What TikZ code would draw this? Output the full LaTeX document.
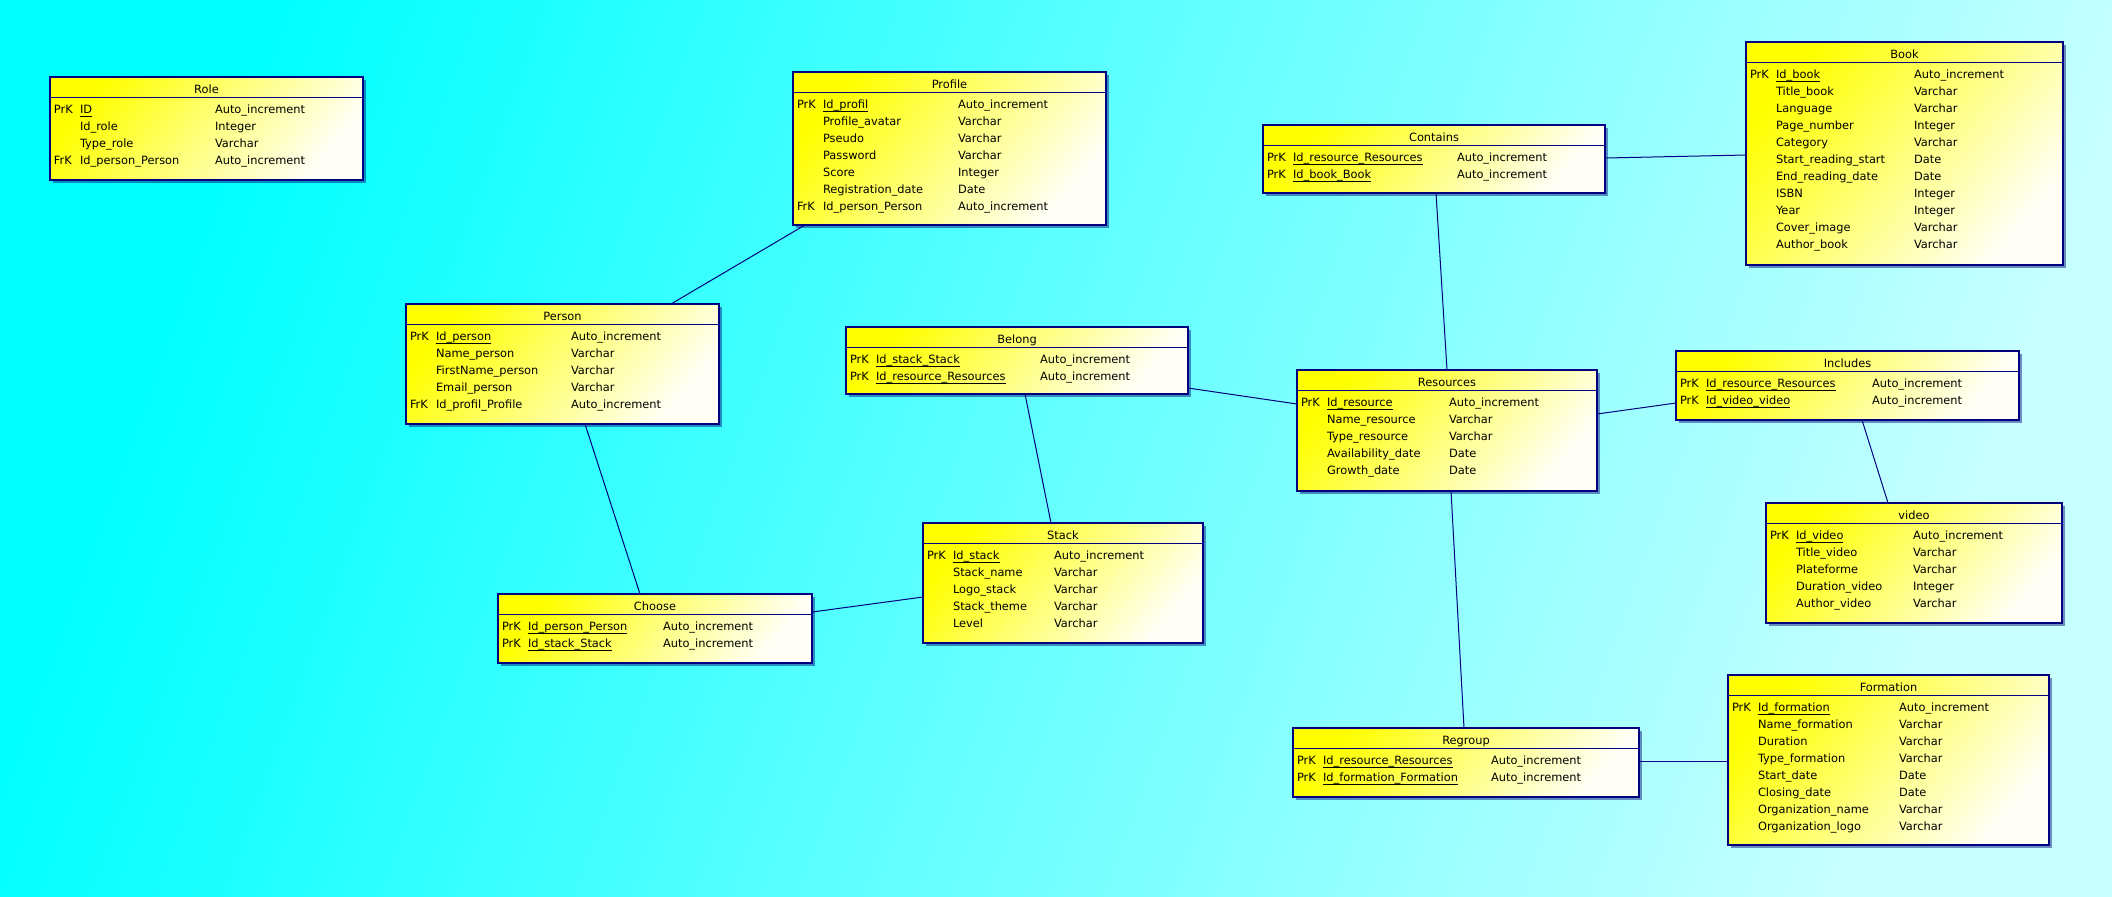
\documentclass[tikz,border=0pt]{standalone}
\usepackage{fontspec}
\setmainfont{DejaVu Sans}
\usetikzlibrary{calc,shadows}
\definecolor{bgA}{RGB}{0,255,255}
\definecolor{bgB}{RGB}{200,255,255}
\definecolor{navyline}{RGB}{0,0,128}
\definecolor{boxA}{RGB}{255,255,0}
\definecolor{boxB}{RGB}{255,255,248}
\newcommand\erfont{\fontsize{5.7}{6.8}\selectfont}
% key field: underlined at underscore level
\newsavebox\ulbox
\newcommand\keyfield[1]{\sbox\ulbox{#1}\rlap{\rule[-0.26em]{\wd\ulbox}{0.07em}}\usebox\ulbox}
\tikzset{
  tbl/.style={rectangle, draw=navyline, line width=0.6pt, inner sep=0pt, outer sep=0pt,
    top color=boxA, bottom color=boxB, shading angle=50,
    drop shadow={shadow xshift=1.6pt, shadow yshift=-1.6pt, fill=black!55!blue, opacity=0.45}},
  ttl/.style={inner sep=0pt, outer sep=0pt, text height=1.6ex, text depth=0.4ex, font=\erfont},
  cell/.style={anchor=west, inner sep=0pt, outer sep=0pt, text height=1.6ex, text depth=0.4ex, font=\erfont},
  hdr/.style={draw=navyline, line width=0.5pt},
  link/.style={draw=navyline, line width=0.5pt}
}
% #1 name, #2 x, #3 y, #4 width, #5 height, #6 title, #7 type column, #8 rows key/field/type
\newcommand\ertable[8]{%
  \node[tbl, minimum width=#4*0.5pt, minimum height=#5*0.5pt, anchor=north west] (#1) at (#2,#3) {};
  \draw[hdr] ($(#1.north west)+(0,20)$) -- ($(#1.north east)+(0,20)$);
  \node[ttl] (#1-title) at ($(#1.north)+(0,10)$) {#6};
  \foreach \k/\n/\t [count=\i] in {#8} {
    \node[cell] (#1-key-\i) at ($(#1.north west)+(4,{30+17*(\i-1)})$) {\k};
    \node[cell] (#1-name-\i) at ($(#1.north west)+(30,{30+17*(\i-1)})$) {\n};
    \node[cell] (#1-type-\i) at ($(#1.north west)+(#7,{30+17*(\i-1)})$) {\t};
  }%
}
\begin{document}
\begin{tikzpicture}[x=0.5pt, y=-0.5pt]
  % backdrop
  \shade[top color=bgA, bottom color=bgB, shading angle=70] (0,0) rectangle (2112,896);
  \useasboundingbox (0,0) rectangle (2112,896);

  \ertable{role}{50}{77}{313}{103}{Role}{165}{
    PrK/\keyfield{ID}/Auto\_increment,
    /Id\_role/Integer,
    /Type\_role/Varchar,
    FrK/Id\_person\_Person/Auto\_increment}

  \ertable{profile}{793}{72}{313}{153}{Profile}{165}{
    PrK/\keyfield{Id\_profil}/Auto\_increment,
    /Profile\_avatar/Varchar,
    /Pseudo/Varchar,
    /Password/Varchar,
    /Score/Integer,
    /Registration\_date/Date,
    FrK/Id\_person\_Person/Auto\_increment}

  \ertable{person}{406}{304}{313}{120}{Person}{165}{
    PrK/\keyfield{Id\_person}/Auto\_increment,
    /Name\_person/Varchar,
    /FirstName\_person/Varchar,
    /Email\_person/Varchar,
    FrK/Id\_profil\_Profile/Auto\_increment}

  \ertable{belong}{846}{327}{342}{67}{Belong}{194}{
    PrK/\keyfield{Id\_stack\_Stack}/Auto\_increment,
    PrK/\keyfield{Id\_resource\_Resources}/Auto\_increment}

  \ertable{contains}{1263}{125}{342}{68}{Contains}{194}{
    PrK/\keyfield{Id\_resource\_Resources}/Auto\_increment,
    PrK/\keyfield{Id\_book\_Book}/Auto\_increment}

  \ertable{book}{1746}{42}{317}{223}{Book}{168}{
    PrK/\keyfield{Id\_book}/Auto\_increment,
    /Title\_book/Varchar,
    /Language/Varchar,
    /Page\_number/Integer,
    /Category/Varchar,
    /Start\_reading\_start/Date,
    /End\_reading\_date/Date,
    /ISBN/Integer,
    /Year/Integer,
    /Cover\_image/Varchar,
    /Author\_book/Varchar}

  \ertable{resources}{1297}{370}{300}{121}{Resources}{152}{
    PrK/\keyfield{Id\_resource}/Auto\_increment,
    /Name\_resource/Varchar,
    /Type\_resource/Varchar,
    /Availability\_date/Date,
    /Growth\_date/Date}

  \ertable{includes}{1676}{351}{343}{69}{Includes}{196}{
    PrK/\keyfield{Id\_resource\_Resources}/Auto\_increment,
    PrK/\keyfield{Id\_video\_video}/Auto\_increment}

  \ertable{video}{1766}{503}{296}{120}{video}{147}{
    PrK/\keyfield{Id\_video}/Auto\_increment,
    /Title\_video/Varchar,
    /Plateforme/Varchar,
    /Duration\_video/Integer,
    /Author\_video/Varchar}

  \ertable{choose}{498}{594}{314}{69}{Choose}{165}{
    PrK/\keyfield{Id\_person\_Person}/Auto\_increment,
    PrK/\keyfield{Id\_stack\_Stack}/Auto\_increment}

  \ertable{stack}{923}{523}{280}{120}{Stack}{131}{
    PrK/\keyfield{Id\_stack}/Auto\_increment,
    /Stack\_name/Varchar,
    /Logo\_stack/Varchar,
    /Stack\_theme/Varchar,
    /Level/Varchar}

  \ertable{regroup}{1293}{728}{346}{69}{Regroup}{198}{
    PrK/\keyfield{Id\_resource\_Resources}/Auto\_increment,
    PrK/\keyfield{Id\_formation\_Formation}/Auto\_increment}

  \ertable{formation}{1728}{675}{321}{170}{Formation}{171}{
    PrK/\keyfield{Id\_formation}/Auto\_increment,
    /Name\_formation/Varchar,
    /Duration/Varchar,
    /Type\_formation/Varchar,
    /Start\_date/Date,
    /Closing\_date/Date,
    /Organization\_name/Varchar,
    /Organization\_logo/Varchar}

  % relationships
  \draw[link] ($(profile.south west)+(12,0)$) -- ($(person.north west)+(265,0)$);
  \draw[link] ($(person.south west)+(179,0)$) -- ($(choose.north west)+(142,0)$);
  \draw[link] ($(choose.north east)+(0,18)$) -- ($(stack.north west)+(0,74)$);
  \draw[link] ($(belong.south west)+(179,0)$) -- ($(stack.north west)+(128,0)$);
  \draw[link] ($(belong.north east)+(0,61)$) -- ($(resources.north west)+(0,34)$);
  \draw[link] ($(contains.south west)+(173,0)$) -- ($(resources.north west)+(150,0)$);
  \draw[link] ($(contains.north east)+(0,33)$) -- ($(book.north west)+(0,113)$);
  \draw[link] ($(resources.north east)+(0,44)$) -- ($(includes.north west)+(0,52)$);
  \draw[link] ($(includes.south west)+(186,0)$) -- ($(video.north west)+(122,0)$);
  \draw[link] ($(resources.south west)+(154,0)$) -- ($(regroup.north west)+(171,0)$);
  \draw[link] ($(regroup.north east)+(0,33)$) -- ($(formation.north west)+(0,86)$);
\end{tikzpicture}
\end{document}
